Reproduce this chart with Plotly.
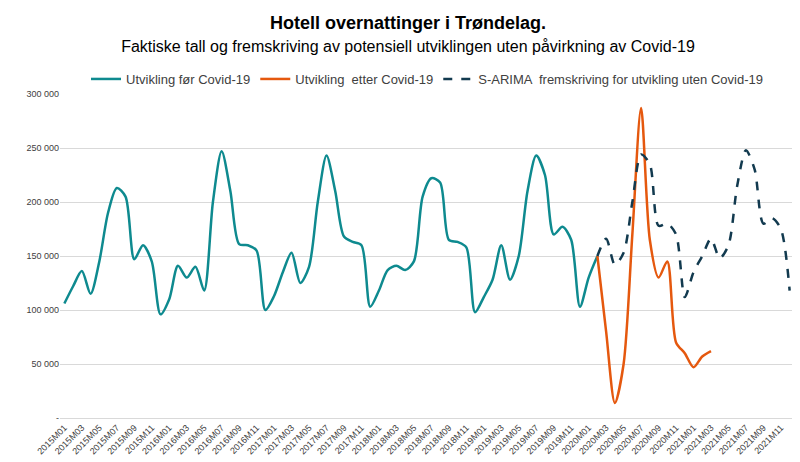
import plotly.graph_objects as go

months = [f"{y}M{m:02d}" for y in range(2015, 2022) for m in range(1, 13)]

pre_covid = [106000,122000,136000,115000,145000,190000,213000,205000,147000,160000,145000,96000,
             110000,141000,130000,140000,118000,200000,247000,210000,161000,160000,155000,100000,
             113000,135000,153000,125000,140000,200000,243000,210000,168000,163000,160000,103000,
             118000,137000,141000,137000,145000,205000,222000,218000,165000,163000,158000,98000,
             112000,128000,160000,128000,150000,210000,243000,225000,170000,177000,165000,103000,
             130000,150000]
post_covid = [150000,80000,14000,50000,170000,287000,165000,130000,145000,70000,60000,
              47000,57000,62000]
sarima = [150000,166000,142000,153000,200000,244000,235000,178000,180000,170000,112000,
          135000,150000,166000,148000,160000,215000,248000,230000,180000,185000,175000,118000]

x_pre = months[:len(pre_covid)]
x_post = months[61:61+len(post_covid)]
x_sar = months[61:61+len(sarima)]

fig = go.Figure()
fig.add_trace(go.Scatter(x=x_pre, y=pre_covid, mode="lines", name="Utvikling før Covid-19",
                         line=dict(color="#0E8A8F", width=2.5, shape="spline", smoothing=0.8)))
fig.add_trace(go.Scatter(x=x_post, y=post_covid, mode="lines", name="Utvikling  etter Covid-19",
                         line=dict(color="#E5580E", width=2.5, shape="spline", smoothing=0.8)))
fig.add_trace(go.Scatter(x=x_sar, y=sarima, mode="lines", name="S-ARIMA  fremskriving for utvikling uten Covid-19",
                         line=dict(color="#123A4F", width=2.5, dash="dash", shape="spline", smoothing=0.8)))

tickvals = [0, 50000, 100000, 150000, 200000, 250000, 300000]
ticktext = ["-" if v == 0 else f"{v:,}".replace(",", " ") for v in tickvals]

fig.update_layout(
    width=800, height=462,
    paper_bgcolor="white", plot_bgcolor="white",
    font=dict(family="Liberation Sans, Arial", color="#404040"),
    margin=dict(l=52, r=14, t=86, b=52),
    title=dict(text="<b>Hotell overnattinger i Trøndelag.</b><br><span style='font-size:16px'>Faktiske tall og fremskriving av potensiell utviklingen uten påvirkning av Covid-19</span>",
               x=0.5, xanchor="center", y=0.955, yanchor="top", font=dict(size=18, color="black")),
    legend=dict(orientation="h", x=0.5, xanchor="center", y=1.0, yanchor="bottom",
                font=dict(size=13, color="#404040")),
    xaxis=dict(type="category", categoryorder="array", categoryarray=months,
               tickvals=months[::2], tickangle=-45, tickfont=dict(size=9),
               showgrid=False, showline=True, linecolor="#D9D9D9", ticks="", range=[-0.5, 83.5]),
    yaxis=dict(range=[0, 300000], tickvals=tickvals, ticktext=ticktext, tickfont=dict(size=9),
               showgrid=True, gridcolor="#D9D9D9", zeroline=False),
)
fig.write_html("out.html")
